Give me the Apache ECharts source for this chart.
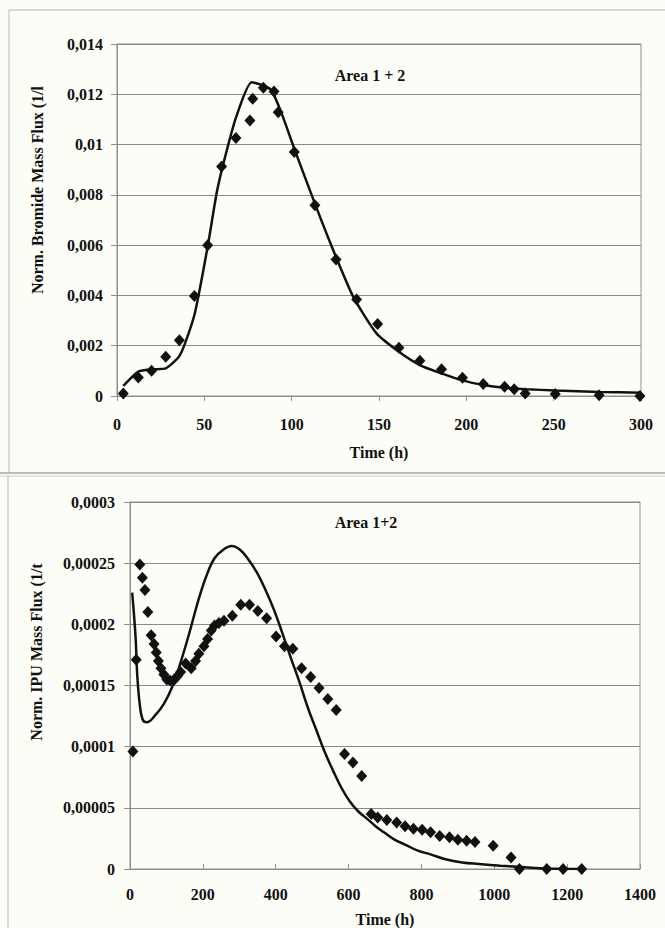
<!DOCTYPE html>
<html>
<head>
<meta charset="utf-8">
<title>Norm. mass flux, Area 1 + 2</title>
<script src="https://cdn.jsdelivr.net/npm/echarts@6.0.0/dist/echarts.min.js"></script>
<style>
  html, body { margin: 0; padding: 0; background: #fdfdf8; }
  #chart { width: 665px; height: 928px; }
</style>
</head>
<body>
<div id="chart"></div>
<script>
// upper chart: bromide, measured (diamonds) and model (line)
const brTimeObs = [3.6, 12.2, 19.8, 27.9, 35.7, 44.3, 51.9, 59.9, 68.1, 76.1, 77.7, 83.8, 89.9, 92.3, 101.5, 113.3,
  125.4, 137.2, 149.2, 161.4, 173.4, 185.8, 197.8, 209.7, 221.9, 227.4, 233.7, 250.9, 276.0, 299.4]
const brFluxObs = [0.0001, 0.00074, 0.001, 0.00156, 0.00222, 0.00398, 0.006, 0.00913, 0.01026, 0.01096, 0.01182, 0.01226, 0.01211, 0.01129, 0.0097, 0.00759,
  0.00543, 0.00384, 0.00286, 0.00192, 0.0014, 0.00106, 0.00073, 0.00048, 0.00037, 0.00027, 0.0001, 0.00008, 0.00003, 0.0]
const brTimeModel = [3.6, 12.2, 19.8, 27.9, 36.1, 44.3, 51.9, 57.0, 60.9, 68.1, 77.1, 83.8, 88.5, 94.3, 101.5, 113.3,
  123.8, 135.3, 148.6, 161.4, 173.4, 185.8, 198.2, 209.7, 221.9, 234.5, 250.9, 276.5, 300]
const brFluxModel = [0.0004, 0.00097, 0.00106, 0.0011, 0.00163, 0.00322, 0.00594, 0.00805, 0.00924, 0.01107, 0.01248, 0.01235, 0.01215, 0.01123, 0.00984, 0.00765,
  0.0058, 0.00394, 0.00249, 0.00176, 0.00123, 0.0009, 0.00061, 0.00044, 0.00033, 0.00027, 0.00022, 0.00016, 0.00013]

// lower chart: IPU
const ipuTimeObs = [8, 17, 27, 34, 41, 49, 58, 66, 72, 78, 85, 93, 101, 110, 122, 131, 139, 153, 168, 180, 189, 203, 213, 223, 232, 244, 258, 281,
  304, 328, 351, 375, 401, 424, 447, 471, 496, 519, 543, 566, 589, 612, 636, 662, 680, 705, 732, 755, 778, 802, 825, 850, 877, 900, 924, 947,
  997, 1046, 1069, 1144, 1189, 1240]
const ipuFluxObs = [0.000096, 0.000171, 0.000249, 0.000238, 0.000228, 0.00021, 0.000191, 0.000184, 0.000177, 0.00017, 0.000164, 0.000159, 0.000155, 0.000154,
  0.000155, 0.000158, 0.000161, 0.000168, 0.000164, 0.00017, 0.000176, 0.000182, 0.000188, 0.000195, 0.000199, 0.000201, 0.000203, 0.000207,
  0.000216, 0.000216, 0.000211, 0.000205, 0.00019, 0.000182, 0.00018, 0.000164, 0.000157, 0.000148, 0.000139, 0.00013, 0.000094, 0.000087,
  0.000076, 0.000045, 0.000042, 0.00004, 0.000038, 0.000035, 0.000033, 0.000032, 0.00003, 0.000027, 0.000026, 0.000024, 0.000023, 0.000022,
  0.000019, 0.0000095, 0, 0, 0, 0]
const ipuTimeModel = [6, 15, 20, 27, 35, 46, 70, 93, 116, 139, 163, 186, 209, 232, 256, 279, 302, 325, 349, 372, 395, 418, 441, 465, 488, 511,
  534, 558, 581, 604, 627, 651, 674, 697, 726, 755, 790, 825, 866, 912, 958, 1017, 1086, 1144, 1240]
const ipuFluxModel = [0.000226, 0.000191, 0.000158, 0.000134, 0.000122, 0.00012, 0.000126, 0.000135, 0.000149, 0.000169, 0.000193, 0.000218,
  0.000239, 0.000254, 0.000261, 0.000264, 0.000261, 0.000253, 0.000242, 0.000228, 0.000212, 0.000193, 0.000173, 0.000153, 0.000132, 0.000114,
  0.000096, 0.00008, 0.000066, 0.000055, 0.000047, 0.000041, 0.000035, 0.00003, 0.000024, 0.00002, 0.000015, 0.000012, 0.000008, 0.0000054,
  0.0000041, 0.0000027, 0.0000014, 0.0000005, 0]

const fontFamily = '"Liberation Serif", "Times New Roman", serif'
const ink = '#111'
const frame = '#8f8f8f'

function zip (xs, ys) {
  return xs.map((x, i) => [x, ys[i]])
}

// excel style: decimal comma, no thousands separator
function commaLabel (v) {
  return String(Number(v.toPrecision(6))).replace('.', ',')
}

const labelStyle = { fontFamily: fontFamily, fontWeight: 'bold', fontSize: 16, color: ink }

function xAxisFor (gridIndex, max, interval, margin, nameGap, tickInside) {
  return {
    type: 'value',
    gridIndex: gridIndex,
    min: 0,
    max: max,
    interval: interval,
    axisLine: { show: true, lineStyle: { color: frame, width: 1 } },
    axisTick: { show: true, inside: tickInside, length: 5, lineStyle: { color: frame } },
    splitLine: { show: false },
    axisLabel: Object.assign({ margin: margin, formatter: commaLabel }, labelStyle),
    name: 'Time (h)',
    nameLocation: 'middle',
    nameGap: nameGap,
    nameTextStyle: labelStyle
  }
}

function yAxisFor (gridIndex, max, interval, margin) {
  return {
    type: 'value',
    gridIndex: gridIndex,
    min: 0,
    max: max,
    interval: interval,
    axisLine: { show: true, lineStyle: { color: frame, width: 1 } },
    axisTick: { show: true, length: 6, lineStyle: { color: frame } },
    splitLine: { show: true, lineStyle: { color: '#8a8a8a', width: 1 } },
    axisLabel: Object.assign({ margin: margin, formatter: commaLabel }, labelStyle)
  }
}

function textEl (text, x, y, rotate) {
  return {
    type: 'text',
    x: x,
    y: y,
    rotation: rotate ? Math.PI / 2 : 0,
    silent: true,
    style: {
      text: text,
      font: 'bold 16px ' + fontFamily,
      fill: ink,
      textAlign: 'center',
      textVerticalAlign: 'middle',
      align: 'center',
      verticalAlign: 'middle'
    }
  }
}

function lineEl (x1, y1, x2, y2, color, w) {
  return {
    type: 'line',
    silent: true,
    shape: { x1: x1, y1: y1, x2: x2, y2: y2 },
    style: { stroke: color, lineWidth: w }
  }
}

const chart = echarts.init(document.getElementById('chart'), null, { renderer: 'svg' })

chart.setOption({
  animation: false,
  backgroundColor: '#fdfdf8',
  grid: [
    { left: 117, top: 44, width: 524, height: 352, show: true, borderColor: frame, borderWidth: 1 },
    { left: 130, top: 502, width: 510, height: 370, show: true, borderColor: frame, borderWidth: 1 }
  ],
  xAxis: [
    xAxisFor(0, 300, 50, 20, 48, false),
    xAxisFor(1, 1400, 200, 17, 42, true)
  ],
  yAxis: [
    yAxisFor(0, 0.014, 0.002, 14),
    yAxisFor(1, 0.0003, 0.00005, 15)
  ],
  graphic: [
    // chart area frames
    lineEl(9, 10, 665, 10, '#b5b5b5', 1),
    lineEl(9, 10, 9, 473, '#b5b5b5', 1),
    lineEl(0, 473, 665, 473, '#9aa4ab', 1.5),
    lineEl(0, 476, 665, 476, '#c8cdd0', 1),
    lineEl(8, 476, 8, 928, '#b5b5b5', 1),
    textEl('Area 1 + 2', 370, 75, false),
    textEl('Area 1+2', 366, 522, false),
    textEl('Norm. Bromide Mass Flux (1/l', 37, 190, true),
    textEl('Norm. IPU Mass Flux (1/t', 36, 652, true)
  ],
  series: [
    {
      type: 'line',
      xAxisIndex: 0,
      yAxisIndex: 0,
      data: zip(brTimeModel, brFluxModel),
      symbol: 'none',
      smooth: 0.2,
      lineStyle: { color: ink, width: 2.5 }
    },
    {
      type: 'scatter',
      xAxisIndex: 0,
      yAxisIndex: 0,
      data: zip(brTimeObs, brFluxObs),
      symbol: 'diamond',
      symbolSize: [11, 12],
      itemStyle: { color: ink, opacity: 1 }
    },
    {
      type: 'line',
      xAxisIndex: 1,
      yAxisIndex: 1,
      data: zip(ipuTimeModel, ipuFluxModel),
      symbol: 'none',
      smooth: 0.4,
      lineStyle: { color: ink, width: 2.5 }
    },
    {
      type: 'scatter',
      xAxisIndex: 1,
      yAxisIndex: 1,
      data: zip(ipuTimeObs, ipuFluxObs),
      symbol: 'diamond',
      symbolSize: [11, 12],
      itemStyle: { color: ink, opacity: 1 }
    }
  ]
})
</script>
</body>
</html>
